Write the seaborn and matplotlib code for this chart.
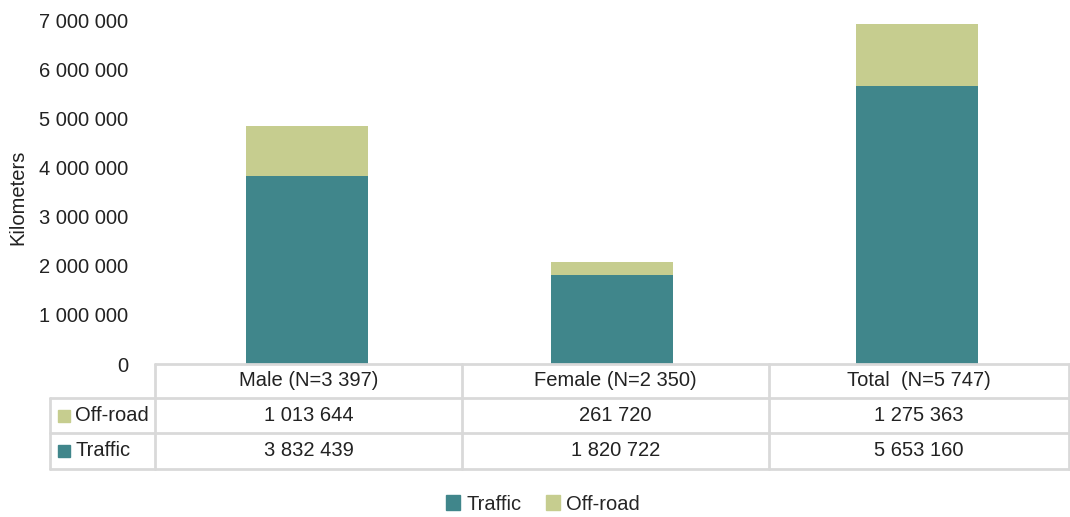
import numpy as np
import pandas as pd
import matplotlib
matplotlib.use('Agg')
import matplotlib.pyplot as plt
import seaborn as sns
from matplotlib.lines import Line2D
from matplotlib.patches import Patch

sns.set_style('white')
plt.rcParams['font.family'] = ['Liberation Sans Narrow', 'Liberation Sans', 'DejaVu Sans']

groups = ['Male (N=3 397)', 'Female (N=2 350)', 'Total  (N=5 747)']
traffic = [3832439, 1820722, 5653160]
offroad = [1013644, 261720, 1275363]
yticks = [0, 1000000, 2000000, 3000000, 4000000, 5000000, 6000000, 7000000]

c_traffic = '#40868B'
c_offroad = '#C6CD8F'
c_line = '#D9D9D9'
fs = 14.5

def fmt(v):
    return f'{v:,}'.replace(',', ' ')

df = pd.DataFrame({'group': groups, 'traffic': traffic, 'offroad': offroad})
df['total'] = df['traffic'] + df['offroad']

W, H = 1070, 517
fig = plt.figure(figsize=(W / 100, H / 100), dpi=100)
x0, x1 = 155, 1069
y_top, y_bot = 20, 364
ax = fig.add_axes([x0 / W, 1 - y_bot / H, (x1 - x0) / W, (y_bot - y_top) / H])

sns.barplot(data=df, x='group', y='total', color=c_offroad, width=0.4, ax=ax, saturation=1, linewidth=0)
sns.barplot(data=df, x='group', y='traffic', color=c_traffic, width=0.4, ax=ax, saturation=1, linewidth=0)

ax.set_ylim(0, 7000000)
ax.set_xlim(-0.5, 2.5)
ax.set_yticks(yticks)
ax.set_yticklabels([fmt(v) for v in yticks], fontsize=fs, color='#222222')
ax.tick_params(axis='y', length=0, pad=19)
ax.set_xticks([])
ax.set_xlabel('')
ax.set_ylabel('')
for s in ax.spines.values():
    s.set_visible(False)

fig.text(18 / W, 1 - 197 / H, 'Kilometers', rotation=90, ha='center', va='center',
         fontsize=fs, color='#222222')

# data table below the plot
col_x = [x0, 462, 769, x1]
row_y = [364, 398, 433, 469]
left_x = 50

def fx(px):
    return px / W

def fy(py):
    return 1 - py / H

lines = []
# horizontal lines
lines.append(([col_x[0], col_x[-1]], [row_y[0], row_y[0]]))
for ry in row_y[1:]:
    lines.append(([left_x, col_x[-1]], [ry, ry]))
# vertical lines
lines.append(([left_x, left_x], [row_y[1], row_y[3]]))
for cx in col_x:
    lines.append(([cx, cx], [row_y[0], row_y[3]]))
for xs, ys in lines:
    fig.add_artist(Line2D([fx(v) for v in xs], [fy(v) for v in ys], color=c_line, lw=2))

for i, g in enumerate(groups):
    cx = (col_x[i] + col_x[i + 1]) / 2
    fig.text(fx(cx), fy((row_y[0] + row_y[1]) / 2), g, ha='center', va='center', fontsize=fs, color='#222222')
    fig.text(fx(cx), fy((row_y[1] + row_y[2]) / 2), fmt(offroad[i]), ha='center', va='center', fontsize=fs, color='#222222')
    fig.text(fx(cx), fy((row_y[2] + row_y[3]) / 2), fmt(traffic[i]), ha='center', va='center', fontsize=fs, color='#222222')

for (name, col), (ya, yb) in zip([('Off-road', c_offroad), ('Traffic', c_traffic)],
                                 [(row_y[1], row_y[2]), (row_y[2], row_y[3])]):
    cy = (ya + yb) / 2
    fig.add_artist(plt.Rectangle((fx(58), fy(cy + 6)), 12 / W, 12 / H, color=col, transform=fig.transFigure))
    fig.text(fx(75), fy(cy), name, ha='left', va='center', fontsize=fs, color='#222222')

handles = [Patch(color=c_traffic, label='Traffic'), Patch(color=c_offroad, label='Off-road')]
fig.legend(handles=handles, loc='center', bbox_to_anchor=(fx(543), fy(504)), ncol=2, frameon=False,
           fontsize=fs, handlelength=0.7, handleheight=0.7, handletextpad=0.3, columnspacing=1.2)

fig.savefig('out.png', dpi=100)
